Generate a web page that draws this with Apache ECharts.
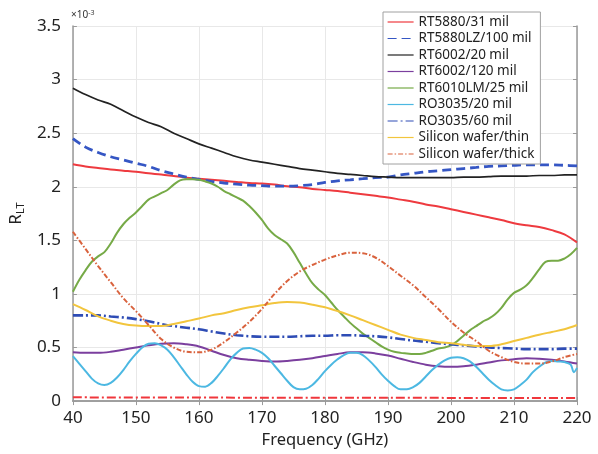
<!DOCTYPE html>
<html>
<head>
<meta charset="utf-8">
<script src="https://cdn.jsdelivr.net/npm/echarts@6/dist/echarts.min.js"></script>
<style>
  html, body { margin: 0; padding: 0; background: #fff; }
  #chart { width: 598px; height: 454px; }
</style>
</head>
<body>
<div id="chart"></div>
<script>
// Frequency grids (GHz)
const freq2 = [140,142,144,146,148,150,152,154,156,158,160,162,164,166,168,170,172,174,176,178,180,
               182,184,186,188,190,192,194,196,198,200,202,204,206,208,210,212,214,216,218,220];
const freq1 = [140,141,142,143,144,145,146,147,148,149,150,151,152,153,154,155,156,157,158,159,160,
               161,162,163,164,165,166,167,168,169,170,171,172,173,174,175,176,177,178,179,180,
               181,182,183,184,185,186,187,188,189,190,191,192,193,194,195,196,197,198,199,200,
               201,202,203,204,205,206,207,208,209,210,211,212,213,214,215,216,217,218,219,220];
const freqRO20 = freq1.slice(0, 80).concat([219.5, 220]);
const freqBase = [140,160,180,200,220];

// R_LT values (x10^-3)
const rt5880_31 = [2.21,2.19,2.175,2.16,2.15,2.14,2.125,2.115,2.10,2.085,2.075,2.065,2.055,2.045,2.035,2.03,2.02,2.005,1.995,1.98,1.97,
                   1.96,1.945,1.93,1.915,1.90,1.88,1.86,1.835,1.815,1.79,1.765,1.74,1.715,1.69,1.66,1.64,1.625,1.595,1.555,1.48];
const rt5880lz_100 = [2.45,2.37,2.32,2.28,2.25,2.22,2.19,2.15,2.12,2.09,2.07,2.05,2.035,2.025,2.015,2.01,2.005,2.005,2.01,2.02,2.04,
                      2.055,2.065,2.075,2.085,2.09,2.11,2.125,2.14,2.15,2.16,2.17,2.18,2.19,2.195,2.20,2.205,2.205,2.205,2.20,2.195];
const rt6002_20 = [2.92,2.86,2.81,2.77,2.71,2.65,2.60,2.56,2.50,2.45,2.40,2.36,2.32,2.28,2.25,2.23,2.21,2.19,2.17,2.155,2.14,
                   2.125,2.115,2.105,2.095,2.09,2.085,2.085,2.085,2.085,2.085,2.09,2.09,2.095,2.10,2.10,2.10,2.105,2.105,2.11,2.11];
const rt6002_120 = [0.455,0.45,0.45,0.46,0.48,0.50,0.52,0.535,0.54,0.53,0.51,0.47,0.43,0.40,0.385,0.375,0.37,0.375,0.385,0.40,0.42,
                    0.44,0.455,0.455,0.445,0.425,0.395,0.365,0.34,0.325,0.32,0.325,0.34,0.36,0.38,0.39,0.40,0.395,0.385,0.37,0.35];
const rt6010lm_25 = [1.02,1.13,1.22,1.30,1.35,1.39,1.47,1.57,1.65,1.71,1.76,1.82,1.88,1.91,1.94,1.97,2.02,2.06,2.07,2.07,2.065,
                     2.05,2.03,2.00,1.96,1.93,1.90,1.87,1.82,1.76,1.69,1.61,1.55,1.51,1.47,1.39,1.29,1.19,1.10,1.04,0.99,
                     0.92,0.85,0.79,0.73,0.68,0.63,0.59,0.55,0.51,0.48,0.46,0.45,0.445,0.44,0.44,0.45,0.47,0.49,0.50,0.52,
                     0.56,0.61,0.66,0.70,0.74,0.77,0.81,0.87,0.95,1.01,1.04,1.08,1.15,1.23,1.30,1.31,1.31,1.33,1.37,1.43];
const ro3035_20 = [0.42,0.35,0.28,0.21,0.165,0.15,0.17,0.22,0.29,0.37,0.44,0.50,0.535,0.54,0.52,0.48,0.41,0.33,0.25,0.18,0.14,
                   0.135,0.17,0.235,0.31,0.39,0.45,0.49,0.495,0.48,0.45,0.40,0.33,0.26,0.19,0.13,0.11,0.115,0.15,0.21,0.28,
                   0.34,0.39,0.43,0.45,0.45,0.43,0.38,0.32,0.25,0.19,0.14,0.11,0.11,0.13,0.17,0.23,0.29,0.34,0.38,0.405,
                   0.41,0.40,0.37,0.32,0.26,0.20,0.15,0.11,0.10,0.11,0.15,0.20,0.27,0.32,0.36,0.375,0.37,0.365,0.34,0.27,0.31];
const ro3035_60 = [0.80,0.80,0.80,0.79,0.78,0.765,0.745,0.72,0.70,0.685,0.67,0.65,0.63,0.615,0.605,0.60,0.60,0.60,0.605,0.61,0.61,
                   0.615,0.615,0.61,0.605,0.595,0.58,0.565,0.555,0.54,0.53,0.52,0.51,0.50,0.495,0.49,0.485,0.485,0.485,0.49,0.49];
const siThin = [0.905,0.85,0.79,0.75,0.72,0.705,0.70,0.70,0.72,0.745,0.77,0.80,0.82,0.85,0.875,0.895,0.915,0.925,0.92,0.90,0.875,
                0.84,0.80,0.755,0.71,0.665,0.62,0.59,0.57,0.55,0.54,0.525,0.515,0.515,0.53,0.56,0.59,0.62,0.645,0.67,0.71];
const siThick = [1.58,1.42,1.26,1.11,0.96,0.84,0.71,0.58,0.50,0.46,0.455,0.48,0.55,0.64,0.74,0.86,1.00,1.12,1.21,1.27,1.32,
                 1.36,1.385,1.38,1.34,1.26,1.17,1.08,0.97,0.86,0.74,0.64,0.56,0.47,0.41,0.365,0.35,0.35,0.37,0.41,0.44];
const baseline = [0.035,0.033,0.031,0.030,0.028];

// Axis tick labels
const xTickLabels = {140:'40',150:'150',160:'160',170:'170',180:'180',190:'190',200:'200',210:'210',220:'220'};

const FONT = 'Noto Sans';

function zip(xs, ys) { return xs.map((x, i) => [x, ys[i]]); }

function line(name, xs, ys, color, width, type) {
  return {
    name: name,
    type: 'line',
    data: zip(xs, ys),
    symbol: 'none',
    smooth: 0.35,
    lineStyle: { color: color, width: width, type: type || 'solid' },
    itemStyle: { color: color },
    emphasis: { disabled: true },
    animation: false
  };
}

const series = [
  line('baseline', freqBase, baseline, '#f0373c', 2, [9, 3, 2, 3]),
  line('RT5880/31 mil', freq2, rt5880_31, '#ee3a3f', 2),
  line('RT5880LZ/100 mil', freq2, rt5880lz_100, '#3556c4', 2.8, [9, 5]),
  line('RT6002/20 mil', freq2, rt6002_20, '#222222', 1.7),
  line('RT6002/120 mil', freq2, rt6002_120, '#7b3f9e', 2),
  line('RT6010LM/25 mil', freq1, rt6010lm_25, '#76aa47', 2),
  line('RO3035/20 mil', freqRO20, ro3035_20, '#4cb8e2', 2),
  line('RO3035/60 mil', freq2, ro3035_60, '#2e4cb5', 2.6, [10, 3, 2, 3]),
  line('Silicon wafer/thin', freq2, siThin, '#f2c53d', 2),
  line('Silicon wafer/thick', freq2, siThick, '#d9623d', 2, [5, 2, 1.5, 2])
];

const chart = echarts.init(document.getElementById('chart'), null, { renderer: 'canvas' });

const axisColor = '#9a9a9a';
const gridColor = '#e8e8e8';

chart.setOption({
  backgroundColor: '#ffffff',
  animation: false,
  textStyle: { fontFamily: FONT },
  grid: { left: 72, right: 21, top: 26, bottom: 45, containLabel: false },
  legend: {
    orient: 'vertical',
    left: 383,
    top: 12,
    data: ['RT5880/31 mil','RT5880LZ/100 mil','RT6002/20 mil','RT6002/120 mil','RT6010LM/25 mil',
           'RO3035/20 mil','RO3035/60 mil','Silicon wafer/thin','Silicon wafer/thick'],
    itemWidth: 26,
    itemHeight: 14,
    itemGap: 2.5,
    padding: [3, 6, 3, 4],
    backgroundColor: '#ffffff',
    borderColor: '#a0a0a0',
    borderWidth: 1,
    borderRadius: 0,
    itemStyle: { opacity: 0 },
    lineStyle: { width: 1.2 },
    textStyle: { fontFamily: FONT, fontSize: 13.5, color: '#222', lineHeight: 14 },
    selectedMode: false,
    z: 10
  },
  xAxis: [{
    type: 'value',
    min: 140,
    max: 220,
    interval: 10,
    name: 'Frequency (GHz)',
    nameLocation: 'middle',
    nameGap: 29,
    nameTextStyle: { fontFamily: FONT, fontSize: 16.5, color: '#222' },
    axisLine: { show: true, onZero: false, lineStyle: { color: axisColor, width: 1.5 } },
    axisTick: { show: true, inside: true, length: 4, lineStyle: { color: axisColor } },
    axisLabel: {
      fontFamily: FONT, fontSize: 17, color: '#222', margin: 9,
      formatter: v => xTickLabels[v] !== undefined ? xTickLabels[v] : String(v)
    },
    splitLine: { show: true, lineStyle: { color: gridColor, width: 1 } }
  }, {
    type: 'value',
    position: 'top',
    min: 140,
    max: 220,
    interval: 10,
    axisLine: { show: true, lineStyle: { color: axisColor, width: 1.5 } },
    axisTick: { show: true, inside: true, length: 4, lineStyle: { color: axisColor } },
    axisLabel: { show: false },
    splitLine: { show: false }
  }],
  yAxis: [{
    type: 'value',
    min: 0,
    max: 3.5,
    interval: 0.5,
    name: 'R{sub|LT}',
    nameLocation: 'middle',
    nameGap: 40,
    nameRotate: 90,
    nameTextStyle: {
      fontFamily: FONT, fontSize: 17, color: '#222',
      rich: { sub: { fontFamily: FONT, fontSize: 11, color: '#222', verticalAlign: 'bottom', padding: [8, 0, 0, 0] } }
    },
    axisLine: { show: true, lineStyle: { color: axisColor, width: 1.5 } },
    axisTick: { show: true, inside: true, length: 4, lineStyle: { color: axisColor } },
    axisLabel: { fontFamily: FONT, fontSize: 17, color: '#222', margin: 12 },
    splitLine: { show: true, lineStyle: { color: gridColor, width: 1 } }
  }, {
    type: 'value',
    position: 'right',
    min: 0,
    max: 3.5,
    interval: 0.5,
    axisLine: { show: true, lineStyle: { color: axisColor, width: 1.5 } },
    axisTick: { show: true, inside: true, length: 4, lineStyle: { color: axisColor } },
    axisLabel: { show: false },
    splitLine: { show: false }
  }],
  graphic: [{
    type: 'text',
    left: 71,
    top: 9,
    style: {
      text: '×10{sup|-3}',
      fontFamily: FONT,
      fontSize: 10,
      fill: '#333',
      rich: { sup: { fontFamily: FONT, fontSize: 7, fill: '#333', verticalAlign: 'top', padding: [0, 0, 5, 0] } }
    }
  }],
  series: series
});
</script>
</body>
</html>
